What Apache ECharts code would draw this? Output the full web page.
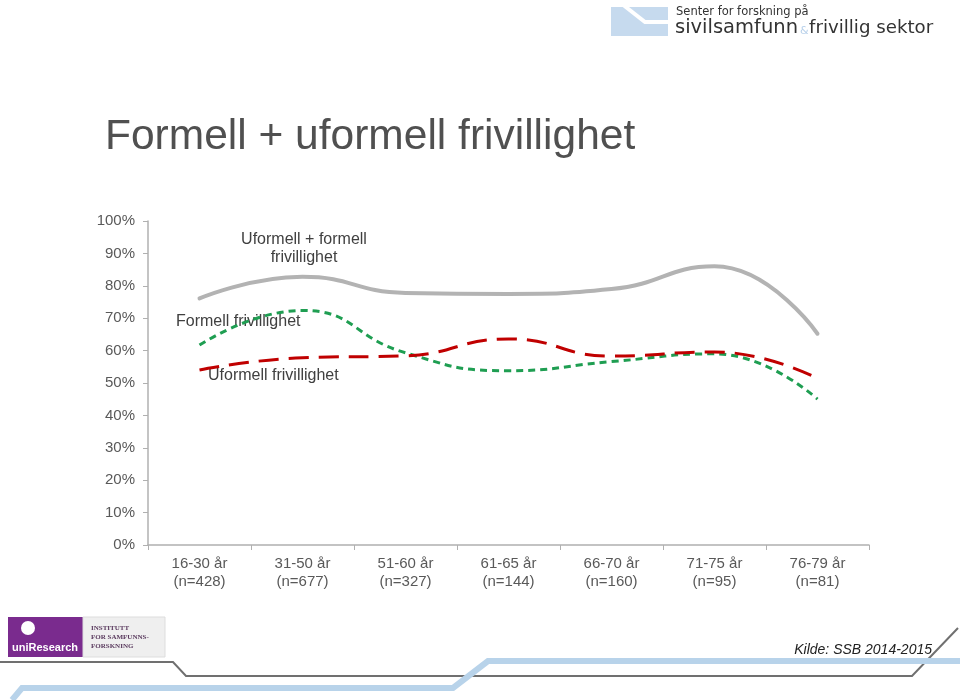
<!DOCTYPE html>
<html>
<head>
<meta charset="utf-8">
<script src="https://cdn.jsdelivr.net/npm/echarts@6/dist/echarts.min.js"></script>
<style>html,body{margin:0;padding:0;background:#fff}#c{width:960px;height:700px}</style>
</head>
<body>
<div id="c"></div>
<script>
const categories = ['16-30 år\n(n=428)', '31-50 år\n(n=677)', '51-60 år\n(n=327)', '61-65 år\n(n=144)', '66-70 år\n(n=160)', '71-75 år\n(n=95)', '76-79 år\n(n=81)'];
const totalVals = [76.1, 82.8, 77.8, 77.5, 79.0, 86.0, 65.2];
const formellVals = [61.7, 72.4, 59.3, 53.8, 56.6, 59.0, 45.0];
const uformellVals = [54.0, 57.8, 58.4, 63.6, 58.3, 59.6, 51.4];
const seriesNames = ['Uformell + formell frivillighet', 'Formell frivillighet', 'Uformell frivillighet'];

const FONT = '"Liberation Sans", Arial, sans-serif';
const chart = echarts.init(document.getElementById('c'), null, {renderer: 'canvas'});
chart.setOption({
  backgroundColor: '#ffffff',
  animation: false,
  grid: {left: 148, right: 91, top: 221, bottom: 155, containLabel: false},
  xAxis: {
    type: 'category', data: categories, boundaryGap: true,
    axisLine: {lineStyle: {color: '#b0b0b0', width: 1.5}},
    axisTick: {show: true, length: 5, alignWithLabel: false, lineStyle: {color: '#b0b0b0'}},
    axisLabel: {color: '#595959', fontSize: 15, fontFamily: FONT, lineHeight: 18, margin: 10, interval: 0},
    splitLine: {show: false}
  },
  yAxis: {
    type: 'value', min: 0, max: 100, interval: 10,
    axisLine: {show: true, lineStyle: {color: '#b0b0b0', width: 1.5}},
    axisTick: {show: true, length: 5, lineStyle: {color: '#b0b0b0'}},
    axisLabel: {color: '#595959', fontSize: 15, fontFamily: FONT, formatter: '{value}%', margin: 13},
    splitLine: {show: false}
  },
  series: [
    {name: seriesNames[0], type: 'line', data: totalVals, smooth: 0.5, symbol: 'none',
     lineStyle: {color: '#b3b3b3', width: 4, cap: 'round'}},
    {name: seriesNames[1], type: 'line', data: formellVals, smooth: 0.5, symbol: 'none',
     lineStyle: {color: '#1f9e52', width: 3, type: [7, 5]}},
    {name: seriesNames[2], type: 'line', data: uformellVals, smooth: 0.5, symbol: 'none',
     lineStyle: {color: '#c00000', width: 3, type: [20, 10]}}
  ],
  graphic: [
    {type: 'text', left: 105, top: 116, style: {text: 'Formell + uformell frivillighet', fill: '#505050', font: '42.5px ' + FONT}},
    {type: 'text', x: 304, y: 249, style: {text: 'Uformell + formell\nfrivillighet', fill: '#404040', font: '16px ' + FONT, align: 'center', verticalAlign: 'middle', lineHeight: 18}},
    {type: 'text', x: 176, y: 322, style: {text: 'Formell frivillighet', fill: '#404040', font: '16px ' + FONT, verticalAlign: 'middle'}},
    {type: 'text', x: 208, y: 376, style: {text: 'Uformell frivillighet', fill: '#404040', font: '16px ' + FONT, verticalAlign: 'middle'}},
    // header logo
    {type: 'rect', shape: {x: 611, y: 7, width: 57, height: 29}, style: {fill: '#c6daee'}},
    {type: 'polyline', shape: {points: [[622, 4], [645, 22], [670, 22]]}, style: {stroke: '#ffffff', lineWidth: 4, fill: null}},
    {type: 'text', x: 676, y: 12, style: {text: 'Senter for forskning på', fill: '#333333', font: '11.5px "DejaVu Sans", sans-serif', verticalAlign: 'middle'}},
    {type: 'text', x: 675, y: 28, style: {text: 'sivilsamfunn', fill: '#333333', font: '19.5px "DejaVu Sans", sans-serif', verticalAlign: 'middle'}},
    {type: 'text', x: 800, y: 31, style: {text: '&', fill: '#b7d0ea', font: '11px "DejaVu Sans", sans-serif', verticalAlign: 'middle'}},
    {type: 'text', x: 809, y: 28, style: {text: 'frivillig sektor', fill: '#333333', font: '18.2px "DejaVu Sans", sans-serif', verticalAlign: 'middle'}},
    // footer logos
    {type: 'rect', shape: {x: 8, y: 617, width: 75, height: 40}, style: {fill: '#7a2b8e'}},
    {type: 'circle', shape: {cx: 28, cy: 628, r: 7}, style: {fill: '#ffffff'}},
    {type: 'text', x: 12, y: 648, style: {text: 'uniResearch', fill: '#ffffff', font: 'bold 11px "Liberation Sans", sans-serif', verticalAlign: 'middle'}},
    {type: 'rect', shape: {x: 83, y: 617, width: 82, height: 40}, style: {fill: '#efefef', stroke: '#dddddd', lineWidth: 1}},
    {type: 'text', x: 91, y: 637, style: {text: 'INSTITUTT\nFOR SAMFUNNS-\nFORSKNING', fill: '#5a3a5e', font: 'bold 7px "Liberation Serif", serif', verticalAlign: 'middle', lineHeight: 9}},
    {type: 'text', right: 28, top: 643, style: {text: 'Kilde: SSB 2014-2015', fill: '#222222', font: 'italic 14px ' + FONT}},
    // footer lines
    {type: 'polyline', shape: {points: [[0, 662], [173, 662], [186, 676], [912, 676], [958, 628]]}, style: {stroke: '#707070', lineWidth: 2, fill: null}},
    {type: 'polyline', shape: {points: [[12, 700], [22, 688], [453, 688], [488, 661], [960, 661]]}, style: {stroke: '#b8d3ea', lineWidth: 6, fill: null}}
  ]
});
</script>
</body>
</html>
